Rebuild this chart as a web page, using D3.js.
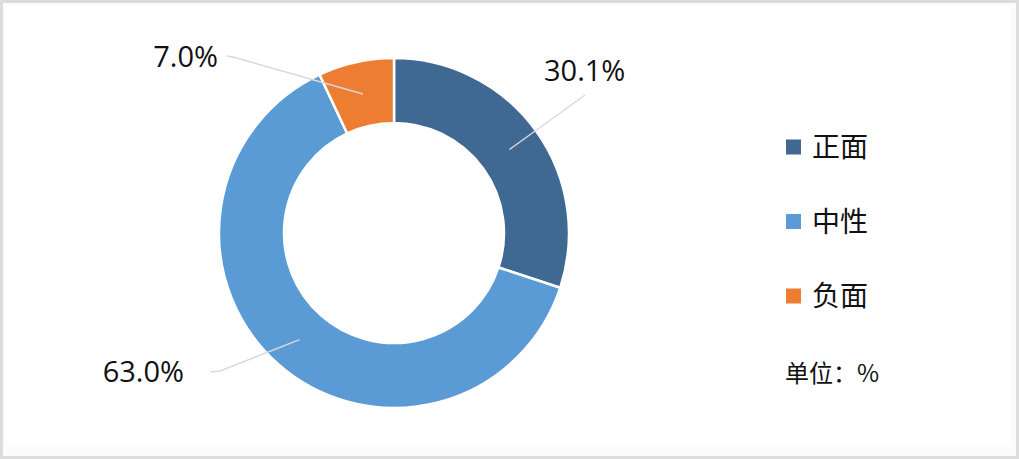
<!DOCTYPE html>
<html>
<head>
<meta charset="utf-8">
<script src="https://cdn.jsdelivr.net/npm/d3@7"></script>
<style>
  body { margin: 0; background: #fff; }
  svg { display: block; }
</style>
</head>
<body>
<svg id="Chart"></svg>
<script>
// data
let categories = ["正面", "中性", "负面"];
let values = [30.1, 63.0, 7.0];
let colors = ["#3f6892", "#5b9bd5", "#ed7d31"];
let unitLabel = "单位：%";

function getConfig() {
  let width = 1019;
  let height = 459;
  let cx = 394, cy = 233;
  let outer = 175, inner = 110;
  let container = d3.select("#Chart")
    .attr("width", width)
    .attr("height", height);
  return { width, height, cx, cy, outer, inner, container };
}

function drawFrame(config) {
  let { container, width, height } = config;
  container.append("rect")
    .attr("width", width).attr("height", height)
    .attr("fill", "#dcdcdc");
  container.append("rect")
    .attr("x", 3).attr("y", 3)
    .attr("width", width - 6).attr("height", height - 6)
    .attr("fill", "#fbfbfb");
  container.append("rect")
    .attr("x", 6).attr("y", 6)
    .attr("width", width - 14).attr("height", 439)
    .attr("fill", "#fff");
}

function drawDonut(config) {
  let { container, cx, cy, outer, inner } = config;
  let slices = categories.map((c, i) => ({ name: c, value: values[i], color: colors[i] }));
  let pie = d3.pie().sort(null).value(d => d.value);
  let arc = d3.arc().innerRadius(inner).outerRadius(outer);
  let arcs = pie(slices);

  let body = container.append("g")
    .attr("transform", `translate(${cx},${cy})`);

  body.selectAll("path")
    .data(arcs)
    .enter().append("path")
    .attr("d", arc)
    .attr("fill", d => d.data.color)
    .attr("stroke", "#fff")
    .attr("stroke-width", 2.5);

  // leader lines / labels: per-slice layout (elbow point, end point, text anchor)
  let layout = {
    "正面": { elbow: [191, -138], end: [191, -138], tx: 150, ty: -152, anchor: "start" },
    "中性": { elbow: [-174, 138], end: [-184, 139], tx: -210, ty: 149, anchor: "end" },
    "负面": { elbow: [-161, -176], end: [-167, -177], tx: -176, ty: -166, anchor: "end" }
  };

  arcs.forEach(d => {
    let c = arc.centroid(d);
    let l = layout[d.data.name];
    body.append("path")
      .attr("d", d3.line()([c, l.elbow, l.end]))
      .attr("fill", "none")
      .attr("stroke", "#d9d9d9")
      .attr("stroke-width", 1.5);
    body.append("text")
      .attr("x", l.tx)
      .attr("y", l.ty)
      .attr("text-anchor", l.anchor)
      .style("font-family", "'Open Sans', 'Noto Sans', sans-serif")
      .style("font-size", "29px")
      .attr("fill", "#111")
      .text(d.value.toFixed(1) + "%");
  });
}

function drawLegend(config) {
  let { container } = config;
  let y = d3.scalePoint().domain(categories).range([147, 296]);

  let items = container.selectAll(".legend")
    .data(categories)
    .enter().append("g")
    .attr("class", "legend")
    .attr("transform", d => `translate(786,${y(d)})`);

  items.append("rect")
    .attr("x", 0).attr("y", -7.5)
    .attr("width", 15).attr("height", 15)
    .attr("fill", (d, i) => colors[i]);

  items.append("text")
    .attr("x", 26).attr("y", 0)
    .attr("dy", "0.36em")
    .style("font-family", "'Noto Sans CJK SC', sans-serif")
    .style("font-size", "28px")
    .attr("fill", "#111")
    .text(d => d);

  container.append("text")
    .attr("x", 785).attr("y", 373)
    .attr("dy", "0.36em")
    .style("font-family", "'Noto Sans CJK SC', sans-serif")
    .style("font-size", "24px")
    .attr("fill", "#111")
    .text(unitLabel);
}

let config = getConfig();
drawFrame(config);
drawDonut(config);
drawLegend(config);
</script>
</body>
</html>
